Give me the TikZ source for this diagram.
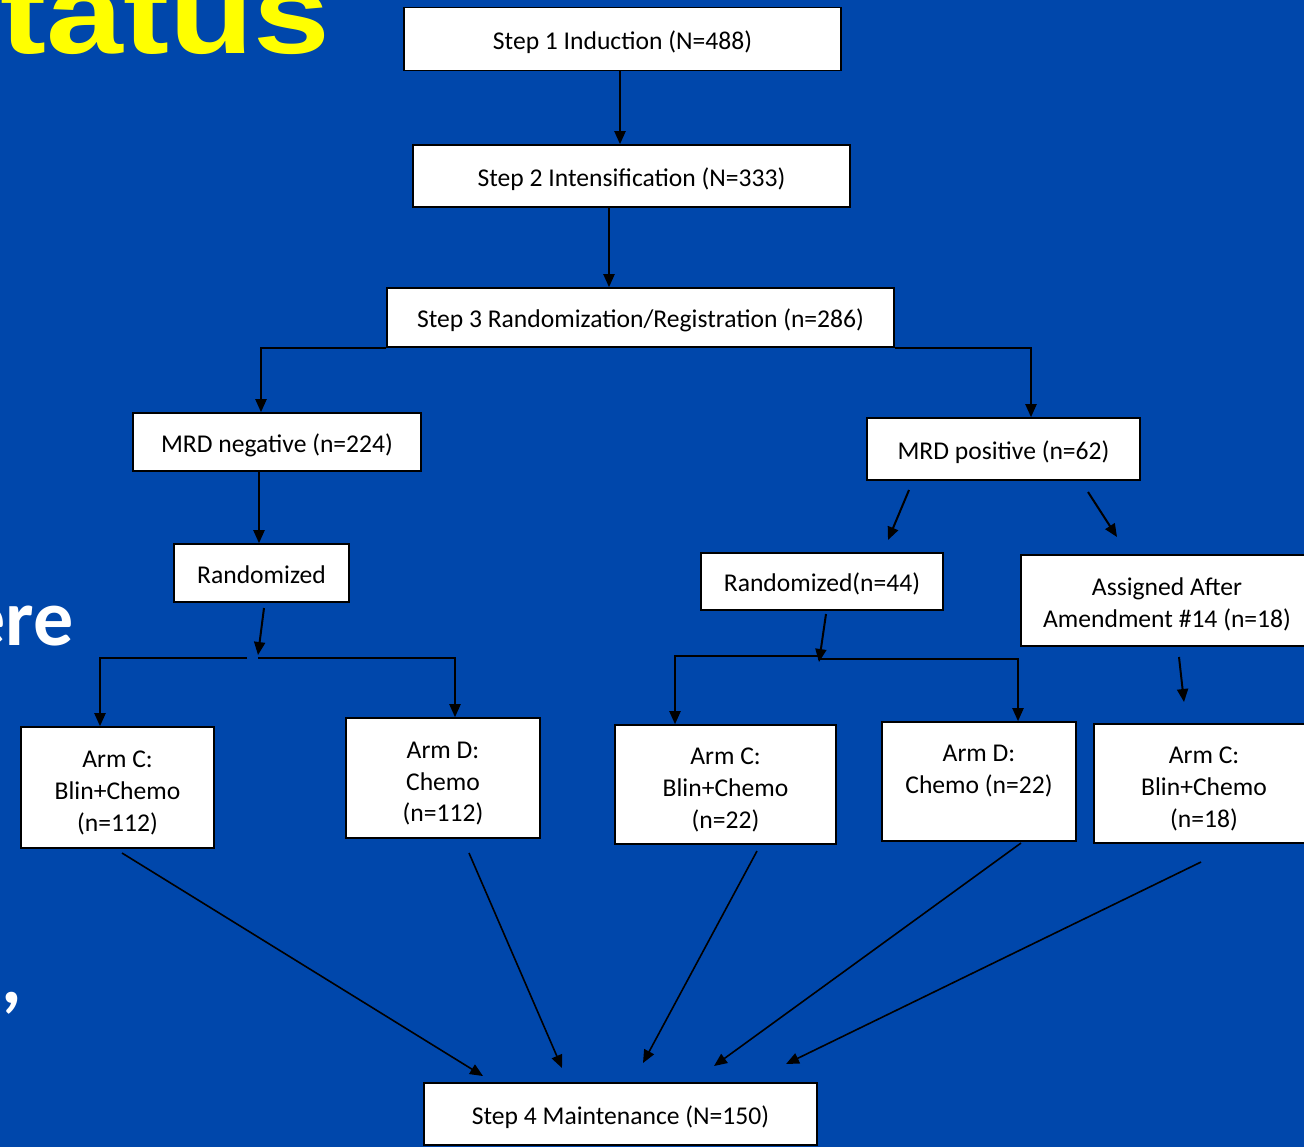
\documentclass[tikz,border=0pt]{standalone}
\usepackage{fontspec}
\setmainfont{Carlito}
\newfontfamily\titlefont{Liberation Sans}[FakeStretch=1.2]
\newfontfamily\sidefont{Carlito}
\usetikzlibrary{arrows.meta}
\definecolor{slideblue}{RGB}{0,71,171}
\definecolor{titleyellow}{RGB}{255,255,0}
\newcommand{\armstrut}{\rule{0pt}{15.5pt}}
\newcommand{\twostrut}{\rule{0pt}{14.2pt}}
\tikzset{
  box/.style={draw=black, fill=white, line width=0.8pt, inner sep=0pt, align=center,
    font=\fontsize{12.8}{15.85}\selectfont,
    execute at begin node={\rule{0pt}{13.5pt}},
    execute at end node={\rule[-3.5pt]{0pt}{0pt}}},
  armbox/.style={draw=black, fill=white, line width=0.8pt, inner sep=0pt, align=center,
    font=\fontsize{12.8}{15.85}\selectfont,
    execute at end node={\rule[-3.5pt]{0pt}{0pt}}},
  conn/.style={draw=black, line width=1pt},
  arr/.style={conn, -{Triangle[length=6.5pt,width=5.5pt]}},
  slidetext/.style={inner sep=0pt, text=white, font=\sidefont\bfseries\fontsize{40}{40}\selectfont},
}
\begin{document}
\begin{tikzpicture}[x=0.5pt,y=-0.5pt]
\fill[slideblue] (0,0) rectangle (1304,1147);
\useasboundingbox (0,0) rectangle (1304,1147);

% slide text behind the chart
\node[anchor=base east, inner sep=0pt, text=titleyellow,
  font=\titlefont\bfseries\fontsize{57.5}{57.5}\selectfont] (title) at (331,53) {tatus};
\node[slidetext, anchor=base east] (ere) at (74,645) {ere};
\node[slidetext, anchor=base west] (comma) at (1,1003) {,};

% boxes
\node[box, minimum width=218.5pt, minimum height=31.5pt] (s1) at (622.5,39) {Step 1 Induction (N=488)};
\node[box, minimum width=218.5pt, minimum height=31pt] (s2) at (631.5,176) {Step 2 Intensification (N=333)};
\node[box, minimum width=253.5pt, minimum height=29.5pt] (s3) at (640.5,317.5) {Step 3 Randomization/Registration (n=286)};
\node[box, minimum width=144pt, minimum height=29pt] (neg) at (277,442) {MRD negative (n=224)};
\node[box, minimum width=136.5pt, minimum height=31pt] (pos) at (1003.5,449) {MRD positive (n=62)};
\node[box, minimum width=87.5pt, minimum height=29pt] (rl) at (261.5,573) {Randomized};
\node[box, minimum width=121pt, minimum height=28.5pt] (rr) at (822,581.5) {Randomized(n=44)};
\node[armbox, minimum width=146pt, minimum height=45.5pt] (asg) at (1167,600.5) {\twostrut Assigned After\\Amendment \#14 (n=18)};
\node[armbox, minimum width=96.5pt, minimum height=60.5pt] (aC1) at (117.5,787.5) {\armstrut Arm C:\\Blin+Chemo\\(n=112)};
\node[armbox, minimum width=97pt, minimum height=60pt] (aD1) at (443,778) {\armstrut Arm D:\\Chemo\\(n=112)};
\node[armbox, minimum width=110.5pt, minimum height=59.5pt] (aC2) at (725.5,784.5) {\armstrut Arm C:\\Blin+Chemo\\(n=22)};
\node[armbox, minimum width=97pt, minimum height=59.5pt] (aD2) at (979,781.5) {\armstrut Arm D:\\Chemo (n=22)\\\mbox{}};
\node[armbox, minimum width=110pt, minimum height=59.5pt] (aC3) at (1204,783.5) {\armstrut Arm C:\\Blin+Chemo\\(n=18)};
\node[box, minimum width=196.5pt, minimum height=31pt] (s4) at (620.5,1114) {Step 4 Maintenance (N=150)};

% helper coordinates
\coordinate (x620) at (620,0);
\coordinate (x609) at (609,0);
\coordinate (x261) at (261,0);
\coordinate (x1031) at (1031,0);
\coordinate (x259) at (259,0);
\coordinate (x100) at (100,0);
\coordinate (x455) at (455,0);
\coordinate (x675) at (675,0);
\coordinate (x1018) at (1018,0);

\coordinate (rlA) at (264,608);
\coordinate (rlB) at (258,655);
\coordinate (jL1) at (247,658);
\coordinate (jL2) at (258,658);
\coordinate (posA) at (909,490);
\coordinate (posB) at (888,540);
\coordinate (posC) at (1088,492);
\coordinate (posD) at (1117,537);
\coordinate (rrA) at (826,614);
\coordinate (rrB) at (819,662);
\coordinate (jR1) at (818,656);
\coordinate (jR2) at (818,659);
\coordinate (asA) at (1179,657);
\coordinate (asB) at (1184,702);
\coordinate (m1a) at (122,853);   \coordinate (m1b) at (483,1076);
\coordinate (m2a) at (469,853);   \coordinate (m2b) at (562,1068);
\coordinate (m3a) at (757,851);   \coordinate (m3b) at (643,1063);
\coordinate (m4a) at (1021,843);  \coordinate (m4b) at (714,1066);
\coordinate (m5a) at (1201,862);  \coordinate (m5b) at (786,1064);

% connectors
\draw[arr] (s1.south -| x620) -- (s2.north -| x620);
\draw[arr] (s2.south -| x609) -- (s3.north -| x609);
\draw[arr] (s3.south west) -| (neg.north -| x261);
\draw[arr] (s3.south east) -| (pos.north -| x1031);
\draw[arr] (neg.south -| x259) -- (rl.north -| x259);
\draw[arr] (rlA) -- (rlB);
\draw[arr] (jL1) -| (aC1.north -| x100);
\draw[arr] (jL2) -| (aD1.north -| x455);
\draw[arr] (posA) -- (posB);
\draw[arr] (posC) -- (posD);
\draw[arr] (rrA) -- (rrB);
\draw[arr] (jR1) -| (aC2.north -| x675);
\draw[arr] (jR2) -| (aD2.north -| x1018);
\draw[arr] (asA) -- (asB);
\draw[arr, line width=0.8pt] (m1a) -- (m1b);
\draw[arr, line width=0.8pt] (m2a) -- (m2b);
\draw[arr, line width=0.8pt] (m3a) -- (m3b);
\draw[arr, line width=0.8pt] (m4a) -- (m4b);
\draw[arr, line width=0.8pt] (m5a) -- (m5b);
\end{tikzpicture}
\end{document}
